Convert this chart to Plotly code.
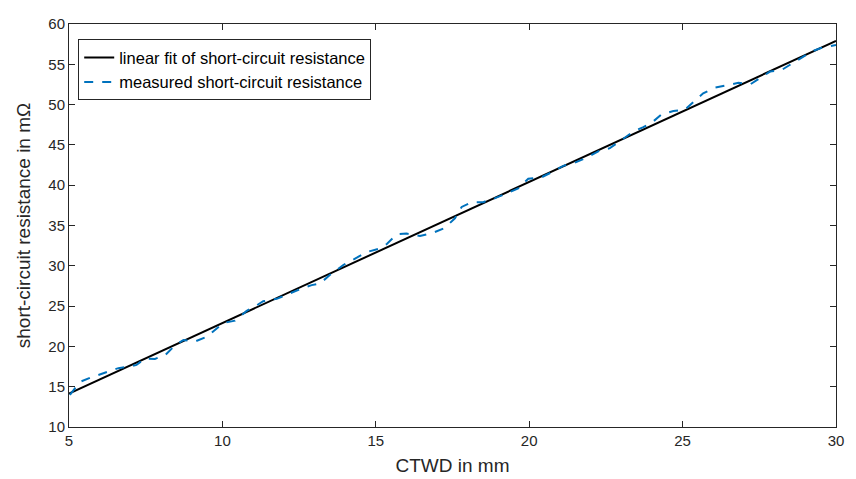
import plotly.graph_objects as go

# linear fit (endpoints)
fit_x = [5, 30]
fit_y = [14.15, 57.9]

# measured short-circuit resistance
meas_x = [5.03, 5.36, 5.68, 6.18, 6.61, 6.99, 7.2, 7.48, 7.8, 8.13, 8.45, 8.73, 9.1,
          9.49, 9.81, 10.03, 10.41, 10.79, 11.12, 11.33, 11.77, 12.2, 12.53, 12.91,
          13.18, 13.5, 13.94, 14.38, 14.7, 15.08, 15.36, 15.68, 16.0, 16.44, 16.87,
          17.25, 17.58, 17.8, 18.13, 18.5, 18.89, 19.27, 19.64, 19.97, 20.41, 20.73,
          21.11, 21.49, 21.87, 22.25, 22.63, 23.01, 23.39, 23.72, 24.04, 24.32, 24.7,
          25.08, 25.35, 25.67, 26.06, 26.44, 26.82, 27.2, 27.52, 27.85, 28.23, 28.56,
          28.88, 29.21, 29.53, 29.91, 30.0]
meas_y = [14.0, 15.6, 16.1, 16.7, 17.3, 17.5, 17.7, 18.5, 18.45, 18.9, 20.1, 20.8, 20.6,
          21.2, 22.2, 22.9, 23.2, 24.4, 25.1, 25.6, 25.9, 26.6, 27.1, 27.6,
          27.8, 28.85, 30.1, 31.0, 31.7, 32.1, 32.7, 33.9, 34.0, 33.7, 34.1,
          34.7, 35.9, 37.3, 37.9, 37.9, 38.4, 39.0, 39.6, 40.8, 41.0, 41.6,
          42.4, 42.8, 43.4, 44.2, 44.6, 45.6, 46.65, 47.2, 47.9, 48.8, 49.2,
          49.4, 50.3, 51.4, 52.1, 52.4, 52.7, 52.5, 53.3, 54.1, 54.3, 55.1,
          55.9, 56.6, 57.05, 57.4, 57.4]

x_ticks = [5, 10, 15, 20, 25, 30]
y_ticks = [10, 15, 20, 25, 30, 35, 40, 45, 50, 55, 60]

AX = "#262626"

fig = go.Figure()
fig.add_trace(go.Scatter(
    x=fit_x, y=fit_y, mode="lines",
    line=dict(color="black", width=2),
    name="linear fit of short-circuit resistance",
))
fig.add_trace(go.Scatter(
    x=meas_x, y=meas_y, mode="lines",
    line=dict(color="#0072BD", width=2, dash="dash"),
    name="measured short-circuit resistance",
))

fig.update_layout(
    width=856, height=479,
    plot_bgcolor="white", paper_bgcolor="white",
    font=dict(family="Liberation Sans, Arial", color=AX, size=15),
    margin=dict(l=61, r=28, t=7, b=60),
    legend=dict(
        x=0.012, y=0.962, xanchor="left", yanchor="top",
        bgcolor="white", bordercolor=AX, borderwidth=1,
        font=dict(size=16.5, color="black"),
        tracegroupgap=0, itemwidth=30,
    ),
)
fig.update_xaxes(
    range=[5, 30], tickvals=x_ticks, ticks="inside", ticklen=6, tickcolor=AX,
    showline=True, linecolor=AX, linewidth=1, mirror="ticks",
    showgrid=False, zeroline=False,
    title=dict(text="CTWD in mm", font=dict(size=19), standoff=10),
    tickfont=dict(size=15), ticklabeloverflow="allow",
)
fig.update_yaxes(
    range=[10, 60], tickvals=y_ticks, ticks="inside", ticklen=6, tickcolor=AX,
    showline=True, linecolor=AX, linewidth=1, mirror="ticks",
    showgrid=False, zeroline=False,
    title=dict(text="short-circuit resistance in mΩ", font=dict(size=19), standoff=12),
    tickfont=dict(size=15), ticklabeloverflow="allow",
)

fig.write_html("out.html")
